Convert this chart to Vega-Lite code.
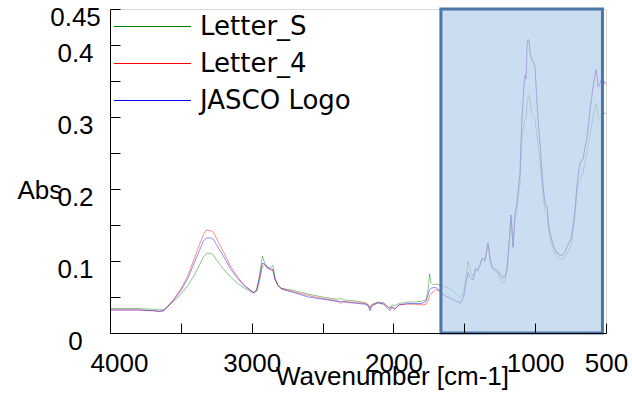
{
  "$schema": "https://vega.github.io/schema/vega-lite/v6.json",
  "width": 496,
  "height": 324,
  "autosize": "none",
  "padding": {"left": 110, "top": 9, "right": 26, "bottom": 65},
  "background": "white",
  "config": {"view": {"stroke": "#d9d9d9", "strokeWidth": 1}, "font": "Liberation Sans"},
  "datasets": {
    "spectra": [
      {"w": 4000, "Letter_S": 0.034, "Letter_4": 0.032, "JASCO Logo": 0.032},
      {"w": 3800, "Letter_S": 0.034, "Letter_4": 0.032, "JASCO Logo": 0.032},
      {"w": 3700, "Letter_S": 0.033, "Letter_4": 0.031, "JASCO Logo": 0.031},
      {"w": 3650, "Letter_S": 0.032, "Letter_4": 0.030, "JASCO Logo": 0.030},
      {"w": 3620, "Letter_S": 0.033, "Letter_4": 0.031, "JASCO Logo": 0.031},
      {"w": 3600, "Letter_S": 0.036, "Letter_4": 0.035, "JASCO Logo": 0.035},
      {"w": 3550, "Letter_S": 0.044, "Letter_4": 0.047, "JASCO Logo": 0.046},
      {"w": 3500, "Letter_S": 0.054, "Letter_4": 0.061, "JASCO Logo": 0.059},
      {"w": 3450, "Letter_S": 0.066, "Letter_4": 0.080, "JASCO Logo": 0.076},
      {"w": 3400, "Letter_S": 0.082, "Letter_4": 0.106, "JASCO Logo": 0.100},
      {"w": 3370, "Letter_S": 0.094, "Letter_4": 0.122, "JASCO Logo": 0.114},
      {"w": 3340, "Letter_S": 0.106, "Letter_4": 0.137, "JASCO Logo": 0.128},
      {"w": 3320, "Letter_S": 0.110, "Letter_4": 0.143, "JASCO Logo": 0.132},
      {"w": 3290, "Letter_S": 0.111, "Letter_4": 0.142, "JASCO Logo": 0.132},
      {"w": 3270, "Letter_S": 0.108, "Letter_4": 0.140, "JASCO Logo": 0.130},
      {"w": 3250, "Letter_S": 0.102, "Letter_4": 0.132, "JASCO Logo": 0.123},
      {"w": 3200, "Letter_S": 0.089, "Letter_4": 0.113, "JASCO Logo": 0.107},
      {"w": 3150, "Letter_S": 0.078, "Letter_4": 0.093, "JASCO Logo": 0.089},
      {"w": 3100, "Letter_S": 0.069, "Letter_4": 0.078, "JASCO Logo": 0.076},
      {"w": 3050, "Letter_S": 0.062, "Letter_4": 0.066, "JASCO Logo": 0.065},
      {"w": 3000, "Letter_S": 0.057, "Letter_4": 0.058, "JASCO Logo": 0.058},
      {"w": 2985, "Letter_S": 0.056, "Letter_4": 0.056, "JASCO Logo": 0.056},
      {"w": 2965, "Letter_S": 0.060, "Letter_4": 0.058, "JASCO Logo": 0.060},
      {"w": 2945, "Letter_S": 0.080, "Letter_4": 0.072, "JASCO Logo": 0.077},
      {"w": 2925, "Letter_S": 0.107, "Letter_4": 0.093, "JASCO Logo": 0.097},
      {"w": 2910, "Letter_S": 0.098, "Letter_4": 0.095, "JASCO Logo": 0.096},
      {"w": 2890, "Letter_S": 0.092, "Letter_4": 0.090, "JASCO Logo": 0.091},
      {"w": 2870, "Letter_S": 0.090, "Letter_4": 0.088, "JASCO Logo": 0.089},
      {"w": 2850, "Letter_S": 0.094, "Letter_4": 0.087, "JASCO Logo": 0.088},
      {"w": 2835, "Letter_S": 0.076, "Letter_4": 0.074, "JASCO Logo": 0.074},
      {"w": 2815, "Letter_S": 0.067, "Letter_4": 0.066, "JASCO Logo": 0.066},
      {"w": 2790, "Letter_S": 0.062, "Letter_4": 0.062, "JASCO Logo": 0.061},
      {"w": 2700, "Letter_S": 0.059, "Letter_4": 0.057, "JASCO Logo": 0.056},
      {"w": 2600, "Letter_S": 0.054, "Letter_4": 0.052, "JASCO Logo": 0.050},
      {"w": 2500, "Letter_S": 0.050, "Letter_4": 0.048, "JASCO Logo": 0.047},
      {"w": 2400, "Letter_S": 0.047, "Letter_4": 0.045, "JASCO Logo": 0.044},
      {"w": 2370, "Letter_S": 0.048, "Letter_4": 0.041, "JASCO Logo": 0.044},
      {"w": 2350, "Letter_S": 0.046, "Letter_4": 0.044, "JASCO Logo": 0.043},
      {"w": 2250, "Letter_S": 0.044, "Letter_4": 0.042, "JASCO Logo": 0.041},
      {"w": 2200, "Letter_S": 0.042, "Letter_4": 0.041, "JASCO Logo": 0.040},
      {"w": 2180, "Letter_S": 0.040, "Letter_4": 0.039, "JASCO Logo": 0.038},
      {"w": 2165, "Letter_S": 0.036, "Letter_4": 0.034, "JASCO Logo": 0.031},
      {"w": 2150, "Letter_S": 0.040, "Letter_4": 0.039, "JASCO Logo": 0.038},
      {"w": 2110, "Letter_S": 0.043, "Letter_4": 0.042, "JASCO Logo": 0.042},
      {"w": 2070, "Letter_S": 0.042, "Letter_4": 0.041, "JASCO Logo": 0.040},
      {"w": 2040, "Letter_S": 0.037, "Letter_4": 0.036, "JASCO Logo": 0.034},
      {"w": 2025, "Letter_S": 0.034, "Letter_4": 0.035, "JASCO Logo": 0.031},
      {"w": 2010, "Letter_S": 0.039, "Letter_4": 0.036, "JASCO Logo": 0.036},
      {"w": 1990, "Letter_S": 0.038, "Letter_4": 0.034, "JASCO Logo": 0.033},
      {"w": 1960, "Letter_S": 0.041, "Letter_4": 0.039, "JASCO Logo": 0.039},
      {"w": 1900, "Letter_S": 0.043, "Letter_4": 0.040, "JASCO Logo": 0.041},
      {"w": 1850, "Letter_S": 0.043, "Letter_4": 0.040, "JASCO Logo": 0.041},
      {"w": 1800, "Letter_S": 0.044, "Letter_4": 0.039, "JASCO Logo": 0.041},
      {"w": 1770, "Letter_S": 0.046, "Letter_4": 0.040, "JASCO Logo": 0.044},
      {"w": 1755, "Letter_S": 0.060, "Letter_4": 0.045, "JASCO Logo": 0.053},
      {"w": 1745, "Letter_S": 0.082, "Letter_4": 0.052, "JASCO Logo": 0.060},
      {"w": 1735, "Letter_S": 0.070, "Letter_4": 0.054, "JASCO Logo": 0.062},
      {"w": 1720, "Letter_S": 0.067, "Letter_4": 0.057, "JASCO Logo": 0.063},
      {"w": 1700, "Letter_S": 0.068, "Letter_4": 0.060, "JASCO Logo": 0.063},
      {"w": 1680, "Letter_S": 0.067, "Letter_4": 0.059, "JASCO Logo": 0.060},
      {"w": 1650, "Letter_S": 0.065, "Letter_4": 0.054, "JASCO Logo": 0.054},
      {"w": 1620, "Letter_S": 0.063, "Letter_4": 0.050, "JASCO Logo": 0.050},
      {"w": 1600, "Letter_S": 0.062, "Letter_4": 0.048, "JASCO Logo": 0.049},
      {"w": 1570, "Letter_S": 0.057, "Letter_4": 0.045, "JASCO Logo": 0.046},
      {"w": 1545, "Letter_S": 0.052, "Letter_4": 0.043, "JASCO Logo": 0.043},
      {"w": 1525, "Letter_S": 0.049, "Letter_4": 0.041, "JASCO Logo": 0.042},
      {"w": 1505, "Letter_S": 0.058, "Letter_4": 0.050, "JASCO Logo": 0.050},
      {"w": 1490, "Letter_S": 0.075, "Letter_4": 0.066, "JASCO Logo": 0.068},
      {"w": 1474, "Letter_S": 0.100, "Letter_4": 0.083, "JASCO Logo": 0.085},
      {"w": 1455, "Letter_S": 0.085, "Letter_4": 0.076, "JASCO Logo": 0.076},
      {"w": 1438, "Letter_S": 0.078, "Letter_4": 0.073, "JASCO Logo": 0.074},
      {"w": 1420, "Letter_S": 0.090, "Letter_4": 0.088, "JASCO Logo": 0.090},
      {"w": 1405, "Letter_S": 0.088, "Letter_4": 0.086, "JASCO Logo": 0.087},
      {"w": 1390, "Letter_S": 0.094, "Letter_4": 0.093, "JASCO Logo": 0.094},
      {"w": 1375, "Letter_S": 0.104, "Letter_4": 0.103, "JASCO Logo": 0.104},
      {"w": 1354, "Letter_S": 0.101, "Letter_4": 0.099, "JASCO Logo": 0.101},
      {"w": 1333, "Letter_S": 0.124, "Letter_4": 0.124, "JASCO Logo": 0.126},
      {"w": 1315, "Letter_S": 0.100, "Letter_4": 0.098, "JASCO Logo": 0.100},
      {"w": 1304, "Letter_S": 0.092, "Letter_4": 0.090, "JASCO Logo": 0.092},
      {"w": 1285, "Letter_S": 0.089, "Letter_4": 0.086, "JASCO Logo": 0.088},
      {"w": 1265, "Letter_S": 0.088, "Letter_4": 0.084, "JASCO Logo": 0.087},
      {"w": 1245, "Letter_S": 0.082, "Letter_4": 0.074, "JASCO Logo": 0.080},
      {"w": 1230, "Letter_S": 0.078, "Letter_4": 0.069, "JASCO Logo": 0.076},
      {"w": 1213, "Letter_S": 0.080, "Letter_4": 0.072, "JASCO Logo": 0.078},
      {"w": 1199, "Letter_S": 0.088, "Letter_4": 0.086, "JASCO Logo": 0.087},
      {"w": 1185, "Letter_S": 0.120, "Letter_4": 0.122, "JASCO Logo": 0.122},
      {"w": 1170, "Letter_S": 0.160, "Letter_4": 0.164, "JASCO Logo": 0.164},
      {"w": 1156, "Letter_S": 0.118, "Letter_4": 0.120, "JASCO Logo": 0.120},
      {"w": 1142, "Letter_S": 0.160, "Letter_4": 0.165, "JASCO Logo": 0.165},
      {"w": 1128, "Letter_S": 0.172, "Letter_4": 0.182, "JASCO Logo": 0.182},
      {"w": 1115, "Letter_S": 0.195, "Letter_4": 0.208, "JASCO Logo": 0.208},
      {"w": 1107, "Letter_S": 0.205, "Letter_4": 0.222, "JASCO Logo": 0.222},
      {"w": 1100, "Letter_S": 0.240, "Letter_4": 0.265, "JASCO Logo": 0.265},
      {"w": 1093, "Letter_S": 0.268, "Letter_4": 0.300, "JASCO Logo": 0.300},
      {"w": 1080, "Letter_S": 0.290, "Letter_4": 0.340, "JASCO Logo": 0.340},
      {"w": 1072, "Letter_S": 0.298, "Letter_4": 0.358, "JASCO Logo": 0.358},
      {"w": 1064, "Letter_S": 0.300, "Letter_4": 0.352, "JASCO Logo": 0.354},
      {"w": 1057, "Letter_S": 0.318, "Letter_4": 0.400, "JASCO Logo": 0.403},
      {"w": 1050, "Letter_S": 0.328, "Letter_4": 0.408, "JASCO Logo": 0.407},
      {"w": 1043, "Letter_S": 0.330, "Letter_4": 0.405, "JASCO Logo": 0.407},
      {"w": 1036, "Letter_S": 0.322, "Letter_4": 0.390, "JASCO Logo": 0.389},
      {"w": 1025, "Letter_S": 0.308, "Letter_4": 0.382, "JASCO Logo": 0.380},
      {"w": 1015, "Letter_S": 0.302, "Letter_4": 0.378, "JASCO Logo": 0.376},
      {"w": 1001, "Letter_S": 0.298, "Letter_4": 0.370, "JASCO Logo": 0.370},
      {"w": 990, "Letter_S": 0.278, "Letter_4": 0.330, "JASCO Logo": 0.330},
      {"w": 980, "Letter_S": 0.262, "Letter_4": 0.300, "JASCO Logo": 0.298},
      {"w": 966, "Letter_S": 0.238, "Letter_4": 0.264, "JASCO Logo": 0.264},
      {"w": 955, "Letter_S": 0.214, "Letter_4": 0.232, "JASCO Logo": 0.232},
      {"w": 944, "Letter_S": 0.190, "Letter_4": 0.203, "JASCO Logo": 0.203},
      {"w": 930, "Letter_S": 0.168, "Letter_4": 0.180, "JASCO Logo": 0.180},
      {"w": 916, "Letter_S": 0.165, "Letter_4": 0.176, "JASCO Logo": 0.175},
      {"w": 905, "Letter_S": 0.142, "Letter_4": 0.150, "JASCO Logo": 0.150},
      {"w": 890, "Letter_S": 0.128, "Letter_4": 0.135, "JASCO Logo": 0.135},
      {"w": 875, "Letter_S": 0.118, "Letter_4": 0.124, "JASCO Logo": 0.124},
      {"w": 860, "Letter_S": 0.110, "Letter_4": 0.116, "JASCO Logo": 0.116},
      {"w": 846, "Letter_S": 0.106, "Letter_4": 0.112, "JASCO Logo": 0.111},
      {"w": 830, "Letter_S": 0.103, "Letter_4": 0.109, "JASCO Logo": 0.109},
      {"w": 815, "Letter_S": 0.102, "Letter_4": 0.108, "JASCO Logo": 0.108},
      {"w": 800, "Letter_S": 0.103, "Letter_4": 0.109, "JASCO Logo": 0.109},
      {"w": 790, "Letter_S": 0.105, "Letter_4": 0.112, "JASCO Logo": 0.112},
      {"w": 775, "Letter_S": 0.110, "Letter_4": 0.119, "JASCO Logo": 0.120},
      {"w": 760, "Letter_S": 0.116, "Letter_4": 0.126, "JASCO Logo": 0.126},
      {"w": 745, "Letter_S": 0.122, "Letter_4": 0.132, "JASCO Logo": 0.132},
      {"w": 720, "Letter_S": 0.160, "Letter_4": 0.170, "JASCO Logo": 0.168},
      {"w": 705, "Letter_S": 0.195, "Letter_4": 0.205, "JASCO Logo": 0.205},
      {"w": 690, "Letter_S": 0.210, "Letter_4": 0.228, "JASCO Logo": 0.228},
      {"w": 683, "Letter_S": 0.212, "Letter_4": 0.236, "JASCO Logo": 0.236},
      {"w": 670, "Letter_S": 0.220, "Letter_4": 0.240, "JASCO Logo": 0.240},
      {"w": 662, "Letter_S": 0.222, "Letter_4": 0.242, "JASCO Logo": 0.241},
      {"w": 648, "Letter_S": 0.238, "Letter_4": 0.258, "JASCO Logo": 0.258},
      {"w": 634, "Letter_S": 0.252, "Letter_4": 0.272, "JASCO Logo": 0.272},
      {"w": 620, "Letter_S": 0.268, "Letter_4": 0.295, "JASCO Logo": 0.295},
      {"w": 613, "Letter_S": 0.275, "Letter_4": 0.310, "JASCO Logo": 0.310},
      {"w": 600, "Letter_S": 0.290, "Letter_4": 0.328, "JASCO Logo": 0.328},
      {"w": 592, "Letter_S": 0.298, "Letter_4": 0.342, "JASCO Logo": 0.342},
      {"w": 580, "Letter_S": 0.310, "Letter_4": 0.356, "JASCO Logo": 0.356},
      {"w": 570, "Letter_S": 0.318, "Letter_4": 0.365, "JASCO Logo": 0.366},
      {"w": 562, "Letter_S": 0.310, "Letter_4": 0.352, "JASCO Logo": 0.354},
      {"w": 556, "Letter_S": 0.300, "Letter_4": 0.342, "JASCO Logo": 0.342},
      {"w": 545, "Letter_S": 0.298, "Letter_4": 0.344, "JASCO Logo": 0.346},
      {"w": 535, "Letter_S": 0.300, "Letter_4": 0.350, "JASCO Logo": 0.352},
      {"w": 528, "Letter_S": 0.302, "Letter_4": 0.351, "JASCO Logo": 0.352},
      {"w": 515, "Letter_S": 0.305, "Letter_4": 0.348, "JASCO Logo": 0.350},
      {"w": 500, "Letter_S": 0.305, "Letter_4": 0.345, "JASCO Logo": 0.347}
    ],
    "box": [{"w": 1665, "w2": 525, "abs": 0, "abs2": 0.45}]
  },
  "encoding": {
    "x": {
      "field": "w", "type": "quantitative",
      "scale": {"domain": [4000, 500], "nice": false, "zero": false},
      "axis": {
        "zindex": 1,
        "values": [4000, 3500, 3000, 2500, 2000, 1500, 1000, 500.001],
        "format": "d",
        "labelExpr": "datum.value % 1000 == 0 || datum.value > 499 && datum.value < 501 ? datum.label : ''",
        "labelFontSize": 26, "labelColor": "black", "labelPadding": 27,
        "labelFlush": false, "labelOverlap": false, "labelBound": false,
        "labelAlign": {"condition": {"test": "datum.value == 4000", "value": "left"}, "value": "center"},
        "labelOffset": {"condition": {"test": "datum.value == 4000", "value": -20}, "value": 0},
        "domainColor": "black", "domainWidth": 1,
        "ticks": true, "tickColor": "black", "tickWidth": 1, "tickOpacity": 1, "tickSize": -10,
        "grid": false,
        "title": "Wavenumber [cm-1]", "titleFontSize": 26, "titleFontWeight": "normal", "titleColor": "black",
        "titleX": 282, "titleY": 51, "titleAlign": "center", "titleBaseline": "alphabetic"
      }
    },
    "y": {
      "field": "abs", "type": "quantitative",
      "scale": {"domain": [0, 0.45], "nice": false},
      "axis": {
        "zindex": 1,
        "values": [0, 0.05, 0.1, 0.15, 0.2, 0.25, 0.3, 0.35, 0.4, 0.44999],
        "format": ".2~f",
        "labelExpr": "indexof(['0','0.1','0.2','0.3','0.4','0.45'], datum.label) >= 0 ? datum.label : ''",
        "labelFontSize": 26, "labelColor": "black", "labelPadding": 45, "labelOffset": 8,
        "labelAlign": "center",
        "labelFlush": false, "labelOverlap": false, "labelBound": false,
        "domainColor": "black",
        "ticks": true, "tickColor": "black", "tickWidth": 1, "tickOpacity": 1, "tickSize": -10,
        "grid": false,
        "title": "Abs", "titleAngle": 0, "titleFontSize": 26, "titleFontWeight": "normal", "titleColor": "black",
        "titleX": -93, "titleY": 189, "titleAlign": "left", "titleBaseline": "alphabetic"
      }
    }
  },
  "layer": [
    {
      "data": {"name": "spectra"},
      "transform": [{"fold": ["Letter_S", "Letter_4", "JASCO Logo"], "as": ["sample", "abs"]}],
      "mark": {"type": "line", "strokeWidth": 1, "opacity": 0.45},
      "encoding": {
        "color": {
          "field": "sample", "type": "nominal",
          "scale": {"domain": ["Letter_S", "Letter_4", "JASCO Logo"], "range": ["#008000", "#ff0000", "#0000ff"]},
          "legend": {
            "orient": "none", "legendX": 3, "legendY": -1,
            "title": null, "symbolType": "stroke", "symbolSize": 5929, "symbolStrokeWidth": 1.2,
            "symbolOpacity": 1, "labelFont": "DejaVu Sans", "labelFontSize": 26, "labelColor": "black",
            "labelOffset": 8, "labelLimit": 400, "padding": 0, "rowPadding": 0, "clipHeight": 37
          }
        }
      }
    },
    {
      "data": {"name": "box"},
      "mark": {"type": "rect", "fill": "#b5cfeb", "fillOpacity": 0.7, "stroke": "#4a76a8", "strokeWidth": 3},
      "encoding": {
        "x2": {"field": "w2"},
        "y2": {"field": "abs2"}
      }
    }
  ]
}
